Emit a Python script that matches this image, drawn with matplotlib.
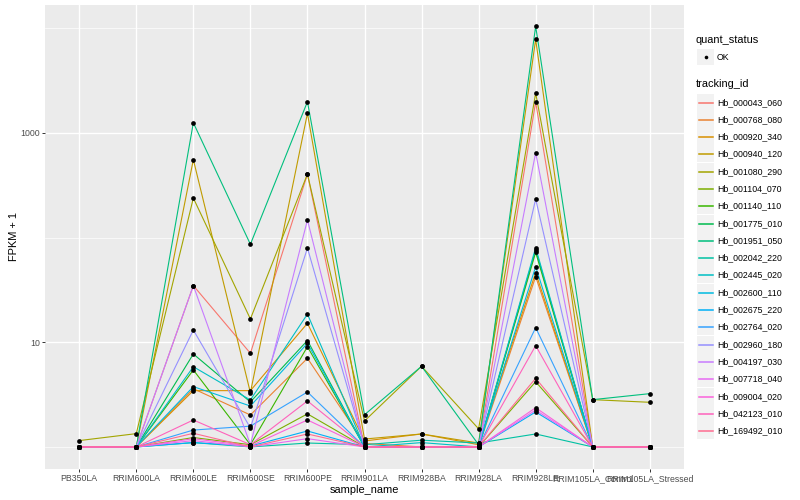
import matplotlib
matplotlib.use('Agg')
import matplotlib.pyplot as plt
from matplotlib.patches import Rectangle
from matplotlib.ticker import FixedLocator, NullLocator

plt.rcParams['font.family'] = ['Liberation Sans', 'DejaVu Sans']

samples = ["PB350LA", "RRIM600LA", "RRIM600LE", "RRIM600SE", "RRIM600PE",
           "RRIM901LA", "RRIM928BA", "RRIM928LA", "RRIM928LE",
           "RRIM105LA_Control", "RRIM105LA_Stressed"]

tracking_ids = ["Hb_000043_060", "Hb_000768_080", "Hb_000920_340", "Hb_000940_120",
                "Hb_001080_290", "Hb_001104_070", "Hb_001140_110", "Hb_001775_010",
                "Hb_001951_050", "Hb_002042_220", "Hb_002445_020", "Hb_002600_110",
                "Hb_002675_220", "Hb_002764_020", "Hb_002960_180", "Hb_004197_030",
                "Hb_007718_040", "Hb_009004_020", "Hb_042123_010", "Hb_169492_010"]

colors = ["#F8766D", "#EA8331", "#D89000", "#C09B00", "#A3A500", "#7CAE00", "#39B600",
          "#00BB4E", "#00BF7D", "#00C1A3", "#00BFC4", "#00BAE0", "#00B0F6", "#35A2FF",
          "#9590FF", "#C77CFF", "#E76BF3", "#FA62DB", "#FF62BC", "#FF6C91"]

# FPKM + 1 per sample (order of `samples`)
hb_000043_060 = [1.0, 1.0, 34.8, 7.85, 405, 1.0, 1.0, 1.0, 1977, 1.0, 1.0]
hb_000768_080 = [1.0, 1.0, 3.6, 2.02, 7.03, 1.08, 1.0, 1.0, 42.4, 1.0, 1.0]
hb_000920_340 = [1.0, 1.0, 3.45, 3.45, 15.2, 1.14, 1.33, 1.05, 46.3, 1.0, 1.0]
hb_000940_120 = [1.0, 1.0, 556, 3.3, 1542, 1.19, 1.33, 1.09, 7850, 1.0, 1.0]
hb_001080_290 = [1.15, 1.34, 239, 16.7, 405, 1.77, 5.9, 1.49, 2410, 2.83, 2.67]
hb_001104_070 = [1.0, 1.0, 1.23, 1.05, 2.07, 1.0, 1.0, 1.0, 4.2, 1.0, 1.0]
hb_001140_110 = [1.0, 1.0, 5.44, 1.05, 9.08, 1.0, 1.0, 1.0, 72.4, 1.0, 1.0]
hb_001775_010 = [1.0, 1.0, 7.73, 2.69, 10.4, 1.0, 1.0, 1.0, 76.2, 1.0, 1.0]
hb_001951_050 = [1.0, 1.0, 1253, 86.4, 1991, 2.03, 5.9, 1.05, 10470, 2.83, 3.23]
hb_002042_220 = [1.0, 1.0, 1.1, 1.0, 1.09, 1.05, 1.16, 1.09, 1.33, 1.0, 1.0]
hb_002445_020 = [1.0, 1.0, 5.84, 2.81, 18.6, 1.0, 1.1, 1.0, 80.2, 1.0, 1.0]
hb_002600_110 = [1.0, 1.0, 3.77, 2.46, 9.78, 1.0, 1.0, 1.0, 52.8, 1.0, 1.0]
hb_002675_220 = [1.0, 1.0, 1.1, 1.02, 1.42, 1.0, 1.0, 1.0, 2.16, 1.0, 1.0]
hb_002764_020 = [1.0, 1.0, 1.45, 1.58, 3.35, 1.0, 1.0, 1.0, 13.8, 1.0, 1.0]
hb_002960_180 = [1.0, 1.0, 13.1, 1.52, 79.6, 1.0, 1.0, 1.0, 234, 1.0, 1.0]
hb_004197_030 = [1.0, 1.0, 34.8, 1.05, 147.5, 1.0, 1.0, 1.0, 648, 1.0, 1.0]
hb_007718_040 = [1.0, 1.0, 1.15, 1.0, 1.2, 1.0, 1.0, 1.0, 2.25, 1.0, 1.0]
hb_009004_020 = [1.0, 1.0, 1.2, 1.02, 1.81, 1.0, 1.0, 1.0, 2.37, 1.0, 1.0]
hb_042123_010 = [1.0, 1.0, 1.81, 1.05, 2.75, 1.0, 1.0, 1.0, 9.29, 1.0, 1.0]
hb_169492_010 = [1.0, 1.0, 1.35, 1.0, 1.33, 1.0, 1.0, 1.0, 4.53, 1.0, 1.0]

series = [hb_000043_060, hb_000768_080, hb_000920_340, hb_000940_120, hb_001080_290,
          hb_001104_070, hb_001140_110, hb_001775_010, hb_001951_050, hb_002042_220,
          hb_002445_020, hb_002600_110, hb_002675_220, hb_002764_020, hb_002960_180,
          hb_004197_030, hb_007718_040, hb_009004_020, hb_042123_010, hb_169492_010]

y_breaks = [10, 1000]
y_minor = [1, 100, 10000]

W, H = 800, 500
fig = plt.figure(figsize=(8, 5), dpi=100)
fig.patch.set_facecolor('white')
pl, pr, pt, pb = 45, 684, 5, 468.7
ax = fig.add_axes([pl / W, 1 - pb / H, (pr - pl) / W, (pb - pt) / H])
ax.set_facecolor('#EBEBEB')
for s in ax.spines.values():
    s.set_visible(False)

xs = list(range(len(samples)))
for vals, c in zip(series, colors):
    ax.plot(xs, vals, color=c, lw=0.8, zorder=2, solid_capstyle='butt')
for vals in series:
    ax.plot(xs, vals, 'o', color='black', ms=3.4, mew=0, zorder=3)

ax.set_yscale('log')
ax.set_ylim(10 ** -0.208, 10 ** 4.223)
ax.set_xlim(-0.6, len(samples) - 0.4)
ax.set_yticks(y_breaks)
ax.set_yticklabels([str(b) for b in y_breaks])
ax.yaxis.set_minor_locator(FixedLocator(y_minor))
ax.yaxis.set_minor_formatter(plt.NullFormatter())
ax.set_xticks(xs)
ax.set_xticklabels(samples)
ax.xaxis.set_minor_locator(NullLocator())

ax.grid(which='major', color='white', lw=1.0)
ax.grid(which='minor', axis='y', color='white', lw=0.5)
ax.set_axisbelow(True)
ax.tick_params(which='major', length=2.2, width=0.7, color='#333333',
               labelcolor='#4D4D4D', labelsize=6.35, pad=1.5)
ax.tick_params(which='minor', length=0)

ax.set_xlabel('sample_name', fontsize=7.9, labelpad=1.5)
ax.set_ylabel('FPKM + 1', fontsize=7.9, labelpad=1)

# legend
lax = fig.add_axes([0, 0, 1, 1])
lax.set_xlim(0, W)
lax.set_ylim(H, 0)
lax.axis('off')
lx = 697
lax.text(lx - 1, 40, 'quant_status', fontsize=7.9, va='center', ha='left')
lax.add_patch(Rectangle((lx, 57 - 8.3), 17, 16.6, fc='#F2F2F2', ec='none'))
lax.plot([lx + 8.5], [57], 'o', color='black', ms=2.6, mew=0)
lax.text(lx + 20, 57, 'OK', fontsize=6.35, va='center', ha='left')
lax.text(lx - 1, 84, 'tracking_id', fontsize=7.9, va='center', ha='left')
for i, (tid, c) in enumerate(zip(tracking_ids, colors)):
    yc = round(101.5 + i * 17.3) + 0.5
    lax.add_patch(Rectangle((lx, yc - 8.3), 17, 16.6, fc='#F2F2F2', ec='none'))
    lax.plot([lx + 1.5, lx + 15.5], [yc, yc], color=c, lw=1.1)
    lax.text(lx + 20, yc, tid, fontsize=6.35, va='center', ha='left')

fig.savefig('out.png', dpi=100)
